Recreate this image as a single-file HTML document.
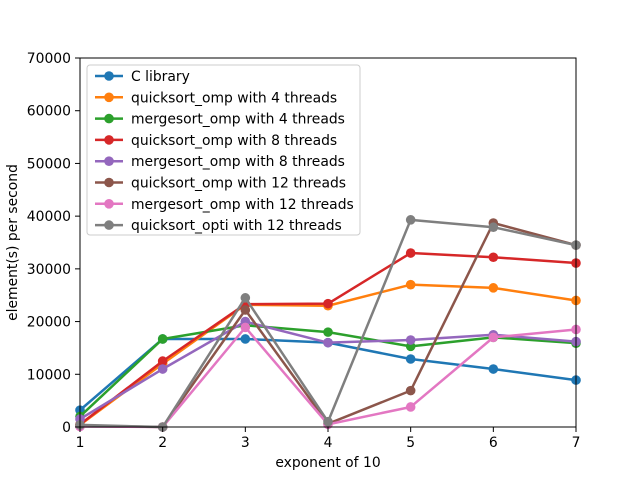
<!DOCTYPE html>
<html><head><meta charset="utf-8"><style>body{margin:0;background:#fff}svg{font-family:"DejaVu Sans","Liberation Sans",sans-serif}</style></head>
<body>
<svg id="chart" width="640" height="480" xmlns="http://www.w3.org/2000/svg"></svg>
<script>
const categories=[1,2,3,4,5,6,7];
const yTicks=[0,10000,20000,30000,40000,50000,60000,70000];
const seriesNames=["C library","quicksort_omp with 4 threads","mergesort_omp with 4 threads","quicksort_omp with 8 threads","mergesort_omp with 8 threads","quicksort_omp with 12 threads","mergesort_omp with 12 threads","quicksort_opti with 12 threads"];
const colors=["#1f77b4","#ff7f0e","#2ca02c","#d62728","#9467bd","#8c564b","#e377c2","#7f7f7f"];
const cLib=[3200,16700,16700,16000,12900,11000,8900];
const quick4=[400,12000,23200,23000,27000,26400,24000];
const merge4=[2000,16700,19300,18000,15300,17000,15900];
const quick8=[500,12500,23300,23400,33000,32200,31100];
const merge8=[1500,11000,20000,16000,16500,17500,16200];
const quick12=[200,0,22200,600,6900,38700,34500];
const merge12=[100,0,18900,500,3800,17000,18500];
const opti12=[400,0,24500,1000,39300,37900,34500];
const series=[cLib,quick4,merge4,quick8,merge8,quick12,merge12,opti12];
const L=80,R=576,T=58,B=427;
const xs=v=>L+(v-1)/6*(R-L);
const ys=v=>B-v/70000*(B-T);
const svg=document.getElementById('chart');
const NS="http://www.w3.org/2000/svg";
function mk(t,a,p){const e=document.createElementNS(NS,t);for(const k in a)e.setAttribute(k,a[k]);(p||svg).appendChild(e);return e;}
const plot=mk('g',{});


series.forEach((s,i)=>{
  const g=mk('g',{},plot);
  
  
  mk('polyline',{points:s.map((v,j)=>xs(categories[j])+','+ys(v)).join(' '),fill:'none',stroke:colors[i],'stroke-width':2.5,'stroke-linejoin':'round'},g);
  s.forEach((v,j)=>{const c=mk('circle',{cx:xs(categories[j]),cy:ys(v),r:4.8,fill:colors[i]},g);
    
    });
});
const ax=mk('rect',{x:L,y:T,width:R-L,height:B-T,fill:'none',stroke:'#000','stroke-width':1});


categories.forEach(c=>{mk('line',{x1:xs(c),x2:xs(c),y1:B,y2:B+5,stroke:'#000'});
  const t=mk('text',{x:xs(c),y:B+20,'text-anchor':'middle','font-size':13.9});t.textContent=c;
  
  });
yTicks.forEach(v=>{mk('line',{x1:L-5,x2:L,y1:ys(v),y2:ys(v),stroke:'#000'});
  const t=mk('text',{x:L-9,y:ys(v)+5,'text-anchor':'end','font-size':13.9});t.textContent=v;
  
  });
const xt=mk('text',{x:(L+R)/2,y:467,'text-anchor':'middle','font-size':13.9});xt.textContent='exponent of 10';


const yt=mk('text',{x:17,y:(T+B)/2,'text-anchor':'middle','font-size':13.9,transform:'rotate(-90 17 '+(T+B)/2+')'});yt.textContent='element(s) per second';


const lg=mk('g',{});


mk('rect',{x:87,y:65,width:273,height:170,rx:3,fill:'#fff','fill-opacity':0.8,stroke:'#ccc'},lg);
seriesNames.forEach((n,i)=>{const y=76+i*21.3;
  const e=mk('g',{},lg);
  
  
  mk('line',{x1:95,x2:123,y1:y,y2:y,stroke:colors[i],'stroke-width':2.5},e);
  mk('circle',{cx:109,cy:y,r:4.8,fill:colors[i]},e);
  const t=mk('text',{x:131,y:y+5,'font-size':13.9},e);t.textContent=n;});
</script>
</body></html>
